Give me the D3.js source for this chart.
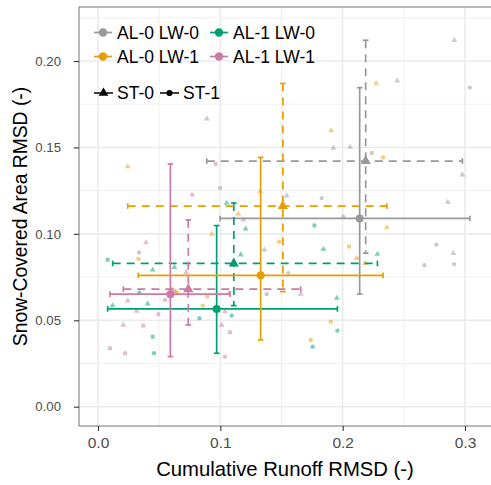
<!DOCTYPE html>
<html>
<head>
<meta charset="utf-8">
<script src="https://cdn.jsdelivr.net/npm/d3@7"></script>
<style>
  html, body { margin: 0; padding: 0; background: #fff; }
  svg { display: block; font-family: "Liberation Sans", Arial, sans-serif; }
</style>
</head>
<body>
<svg id="chart" width="491" height="485"></svg>
<script>
// Model groups (albedo / liquid-water options) and their colours
const groupNames = ["AL-0 LW-0", "AL-1 LW-0", "AL-0 LW-1", "AL-1 LW-1"];
const groupColors = ["#999999", "#009E73", "#E69F00", "#CC79A7"];
const structureNames = ["ST-0", "ST-1"];

// Ensemble members: [cumulative runoff RMSD, snow-covered area RMSD]
const al0lw0_st0 = [[0.2913, 0.2120], [0.2447, 0.1886], [0.2979, 0.1342], [0.2859, 0.1184], [0.2905, 0.0888],
                    [0.1924, 0.1497], [0.2061, 0.1502], [0.1543, 0.1220], [0.0889, 0.1666], [0.1360, 0.0908]];
const al0lw0_st1 = [[0.3039, 0.1846], [0.2238, 0.1468], [0.2766, 0.0938], [0.2668, 0.0819], [0.2911, 0.0825],
                    [0.0998, 0.1265], [0.1829, 0.1207], [0.2006, 0.1100], [0.1556, 0.0773], [0.1379, 0.0651]];
const al1lw0_st0 = [[0.1052, 0.1178], [0.1207, 0.1029], [0.1167, 0.0879], [0.1843, 0.0912], [0.1952, 0.0628],
                    [0.2284, 0.0883], [0.0447, 0.0792], [0.0624, 0.0807], [0.0120, 0.0585], [0.0406, 0.0595]];
const al1lw0_st1 = [[0.0079, 0.0850], [0.1769, 0.1048], [0.1093, 0.0527], [0.1957, 0.0440], [0.1755, 0.0347],
                    [0.0338, 0.0660], [0.0829, 0.0512], [0.0447, 0.0405], [0.0458, 0.0309], [0.0975, 0.0560]];
const al0lw1_st0 = [[0.0243, 0.1390], [0.1905, 0.1597], [0.2273, 0.1870], [0.2361, 0.1037], [0.2115, 0.0859],
                    [0.2183, 0.0830], [0.1147, 0.1116], [0.0930, 0.0999], [0.1325, 0.1245], [0.0630, 0.0666]];
const al0lw1_st1 = [[0.2330, 0.1442], [0.2052, 0.0927], [0.1903, 0.0492], [0.1739, 0.0386], [0.0330, 0.0855],
                    [0.0643, 0.0663], [0.0894, 0.0637], [0.0856, 0.0585], [0.1480, 0.0955], [0.1070, 0.0658]];
const al1lw1_st0 = [[0.1188, 0.1081], [0.0392, 0.0950], [0.1657, 0.0651], [0.1038, 0.0550], [0.1011, 0.0473],
                    [0.0720, 0.0778], [0.0243, 0.0612], [0.0316, 0.0554], [0.0207, 0.0473], [0.0608, 0.0678]];
const al1lw1_st1 = [[0.0962, 0.1404], [0.0771, 0.1226], [0.0335, 0.0892], [0.1079, 0.0431], [0.1038, 0.0290],
                    [0.0548, 0.0618], [0.0493, 0.0535], [0.0370, 0.0469], [0.0098, 0.0338], [0.0221, 0.0309]];

const xTicks = [0, 0.1, 0.2, 0.3];
const yTicks = [0, 0.05, 0.10, 0.15, 0.20];
const xMinor = [0.05, 0.15, 0.25];
const yMinor = [0.025, 0.075, 0.125, 0.175, 0.225];
const xTitle = "Cumulative Runoff RMSD (-)";
const yTitle = "Snow-Covered Area RMSD (-)";

// Series list: group index, structure index, members
const series = [
  { g: 0, st: 0, pts: al0lw0_st0 }, { g: 0, st: 1, pts: al0lw0_st1 },
  { g: 1, st: 0, pts: al1lw0_st0 }, { g: 1, st: 1, pts: al1lw0_st1 },
  { g: 2, st: 0, pts: al0lw1_st0 }, { g: 2, st: 1, pts: al0lw1_st1 },
  { g: 3, st: 0, pts: al1lw1_st0 }, { g: 3, st: 1, pts: al1lw1_st1 }
];

const svg = d3.select("#chart");
const panel = { left: 79, right: 495, top: 7, bottom: 426 };

const x = d3.scaleLinear().domain([0, 0.3]).range([98, 465]);
const y = d3.scaleLinear().domain([0, 0.2]).range([406.7, 61]);

// grid
const grid = svg.append("g");
grid.selectAll(".xminor").data(xMinor).join("line")
  .attr("x1", d => x(d)).attr("x2", d => x(d))
  .attr("y1", panel.top).attr("y2", panel.bottom)
  .attr("stroke", "#f0f0f0").attr("stroke-width", 1);
grid.selectAll(".yminor").data(yMinor).join("line")
  .attr("y1", d => y(d)).attr("y2", d => y(d))
  .attr("x1", panel.left).attr("x2", panel.right)
  .attr("stroke", "#f0f0f0").attr("stroke-width", 1);
grid.selectAll(".xmajor").data(xTicks).join("line")
  .attr("x1", d => x(d)).attr("x2", d => x(d))
  .attr("y1", panel.top).attr("y2", panel.bottom)
  .attr("stroke", "#ebebeb").attr("stroke-width", 1.6);
grid.selectAll(".ymajor").data(yTicks).join("line")
  .attr("y1", d => y(d)).attr("y2", d => y(d))
  .attr("x1", panel.left).attr("x2", panel.right)
  .attr("stroke", "#ebebeb").attr("stroke-width", 1.6);

const tri = d3.symbol().type(d3.symbolTriangle);
const circ = d3.symbol().type(d3.symbolCircle);

// ensemble members (faint)
const members = svg.append("g");
series.forEach(s => {
  members.selectAll(null).data(s.pts).join("path")
    .attr("transform", d => `translate(${x(d[0])},${y(d[1])})`)
    .attr("d", s.st === 0 ? tri.size(15)() : circ.size(15)())
    .attr("fill", groupColors[s.g])
    .attr("fill-opacity", 0.5);
});

// summary: mean with min–max ranges
const cap = 2.8;
const bars = svg.append("g");
series.forEach(s => {
  const xs = s.pts.map(d => d[0]), ys = s.pts.map(d => d[1]);
  const mx = d3.mean(xs), my = d3.mean(ys);
  const [x0, x1] = d3.extent(xs), [y0, y1] = d3.extent(ys);
  const dash = s.st === 0 ? "8,6" : null;
  const segs = [
    // vertical range with caps
    [[x(mx) - cap, y(y1)], [x(mx) + cap, y(y1)]],
    [[x(mx), y(y1)], [x(mx), y(y0)]],
    [[x(mx) - cap, y(y0)], [x(mx) + cap, y(y0)]],
    // horizontal range with caps
    [[x(x0), y(my) - cap], [x(x0), y(my) + cap]],
    [[x(x0), y(my)], [x(x1), y(my)]],
    [[x(x1), y(my) - cap], [x(x1), y(my) + cap]]
  ];
  bars.selectAll(null).data(segs).join("path")
    .attr("d", d => d3.line()(d))
    .attr("stroke", groupColors[s.g])
    .attr("stroke-width", 1.7)
    .attr("fill", "none")
    .attr("stroke-dasharray", dash);
  s.mean = [mx, my];
});
const means = svg.append("g");
series.forEach(s => {
  means.append("path")
    .attr("transform", `translate(${x(s.mean[0])},${y(s.mean[1])})`)
    .attr("d", s.st === 0 ? tri.size(46)() : circ.size(50)())
    .attr("fill", groupColors[s.g]);
});

// panel frame and axes
svg.append("rect")
  .attr("x", panel.left).attr("y", panel.top)
  .attr("width", panel.right - panel.left).attr("height", panel.bottom - panel.top)
  .attr("fill", "none").attr("stroke", "#8c8c8c").attr("stroke-width", 1.2);

const xAxis = svg.append("g").attr("transform", `translate(0,${panel.bottom})`)
  .call(d3.axisBottom(x).tickValues(xTicks).tickFormat(d3.format(".1f")).tickSize(5).tickPadding(6));
const yAxis = svg.append("g").attr("transform", `translate(${panel.left},0)`)
  .call(d3.axisLeft(y).tickValues(yTicks).tickFormat(d3.format(".2f")).tickSize(5).tickPadding(13));
[xAxis, yAxis].forEach(a => {
  a.select(".domain").remove();
  a.selectAll(".tick line").attr("stroke", "#333").attr("stroke-width", 1.1);
  a.selectAll(".tick text").attr("fill", "#4d4d4d")
    .attr("font-family", "Liberation Sans, Arial, sans-serif");
});
xAxis.selectAll(".tick text").attr("font-size", 15.5);
yAxis.selectAll(".tick text").attr("font-size", 13.2);

svg.append("text")
  .attr("x", (panel.left + 491) / 2).attr("y", 476)
  .attr("text-anchor", "middle").attr("font-size", 20.3).attr("fill", "#000")
  .text(xTitle);
svg.append("text")
  .attr("transform", `translate(27,${(panel.top + panel.bottom) / 2}) rotate(-90)`)
  .attr("text-anchor", "middle").attr("font-size", 19.3).attr("fill", "#000")
  .text(yTitle);

// legend: groups
const legend = svg.append("g");
const legendOrder = [0, 1, 2, 3];
legendOrder.forEach((g, i) => {
  const col = i % 2, row = Math.floor(i / 2);
  const kx = 94 + col * 116, ky = 32.5 + row * 24;
  legend.append("line").attr("x1", kx).attr("x2", kx + 18).attr("y1", ky).attr("y2", ky)
    .attr("stroke", groupColors[g]).attr("stroke-width", 1.7);
  legend.append("circle").attr("cx", kx + 9).attr("cy", ky).attr("r", 4.2).attr("fill", groupColors[g]);
  legend.append("text").attr("x", kx + 23).attr("y", ky).attr("dy", "0.36em")
    .attr("font-size", 17.5).attr("fill", "#000").text(groupNames[g]);
});
// legend: structures
structureNames.forEach((name, i) => {
  const kx = 94 + i * 66, ky = 93;
  legend.append("line").attr("x1", kx).attr("x2", kx + 19).attr("y1", ky).attr("y2", ky)
    .attr("stroke", "#000").attr("stroke-width", 1.5);
  legend.append("path").attr("transform", `translate(${kx + 9.5},${ky})`)
    .attr("d", i === 0 ? tri.size(40)() : circ.size(30)()).attr("fill", "#000");
  legend.append("text").attr("x", kx + 23).attr("y", ky).attr("dy", "0.36em")
    .attr("font-size", 17.5).attr("fill", "#000").text(name);
});
</script>
</body>
</html>
